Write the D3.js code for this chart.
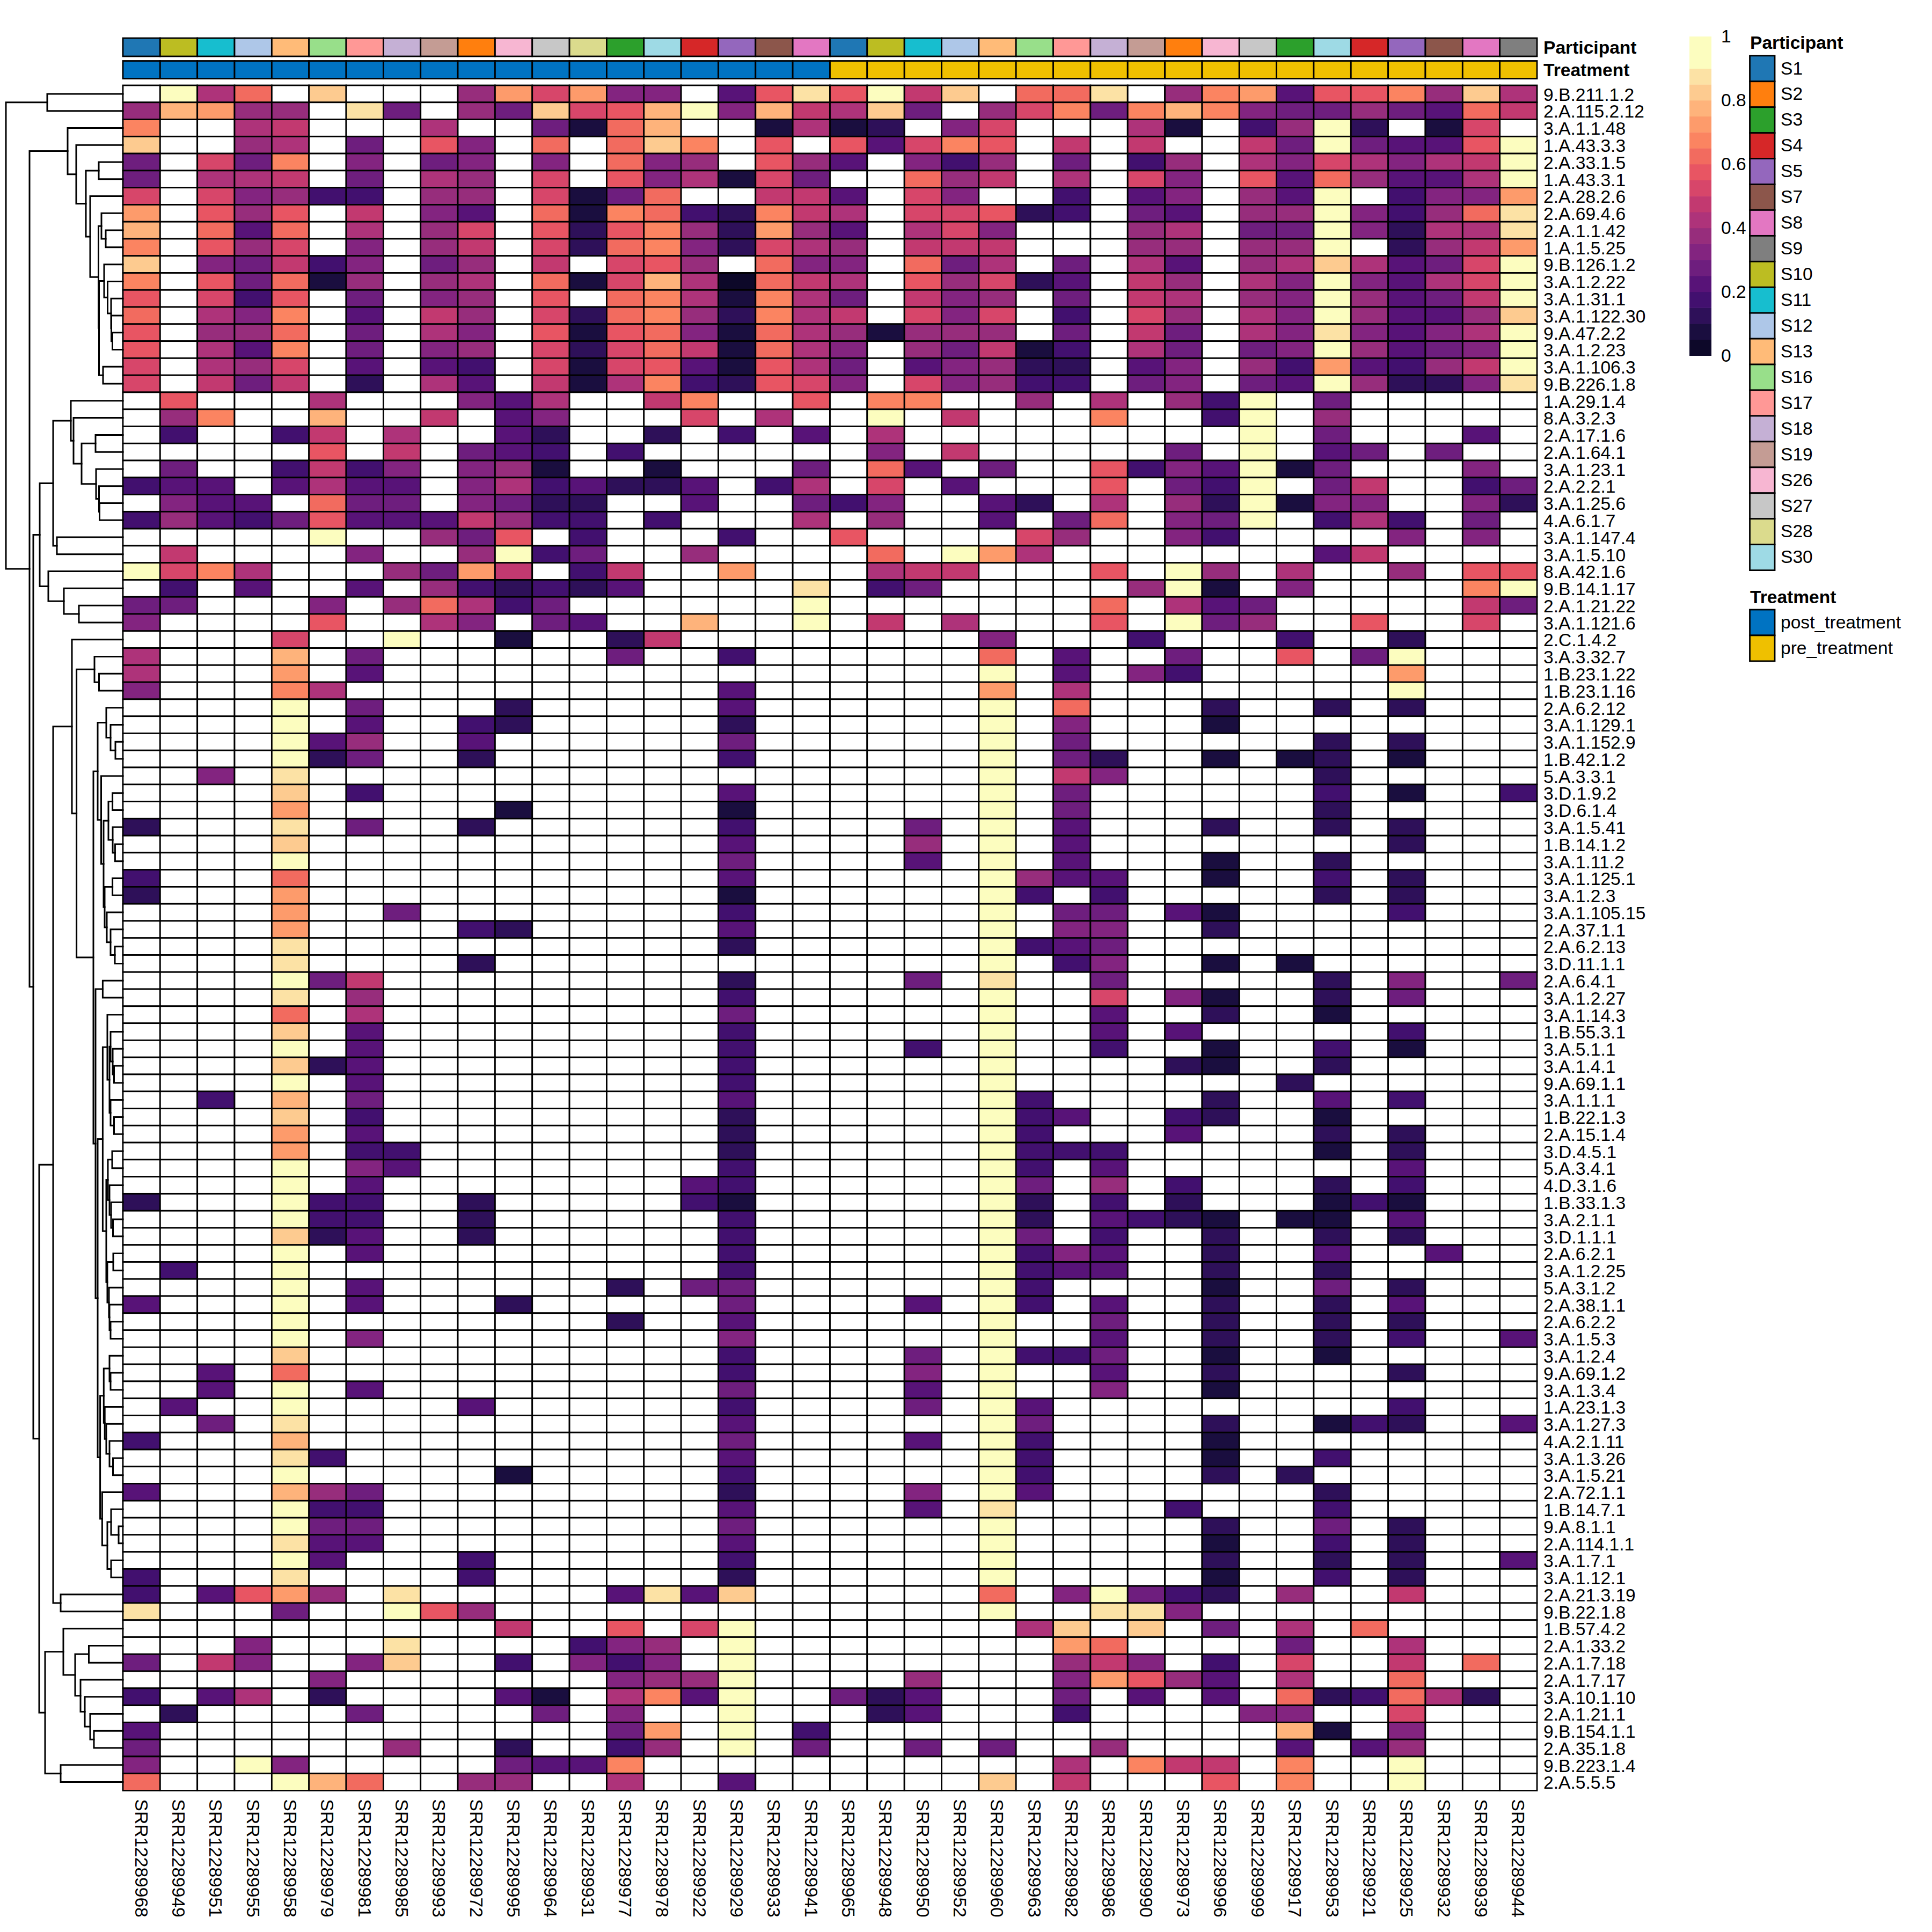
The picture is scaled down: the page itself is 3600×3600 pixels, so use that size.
<!DOCTYPE html>
<html>
<head>
<meta charset="utf-8">
<script src="https://cdnjs.cloudflare.com/ajax/libs/d3/7.8.5/d3.min.js"></script>
<style>
body { margin: 0; background: #fff; }
text { font-family: "Liberation Sans", Arial, sans-serif; fill: #000; }
</style>
</head>
<body>
<div id="chart"></div>
<script>
const sampleNames = ["SRR12289968","SRR12289949","SRR12289951","SRR12289955","SRR12289958","SRR12289979","SRR12289981","SRR12289985","SRR12289993","SRR12289972","SRR12289995","SRR12289964","SRR12289931","SRR12289977","SRR12289978","SRR12289922","SRR12289929","SRR12289933","SRR12289941","SRR12289965","SRR12289948","SRR12289950","SRR12289952","SRR12289960","SRR12289963","SRR12289982","SRR12289986","SRR12289990","SRR12289973","SRR12289996","SRR12289999","SRR12289917","SRR12289953","SRR12289921","SRR12289925","SRR12289932","SRR12289939","SRR12289944"]

const sampleParticipant = ["S1","S10","S11","S12","S13","S16","S17","S18","S19","S2","S26","S27","S28","S3","S30","S4","S5","S7","S8","S1","S10","S11","S12","S13","S16","S17","S18","S19","S2","S26","S27","S3","S30","S4","S5","S7","S8","S9"]

const postCount = 19

const participantNames = ["S1","S2","S3","S4","S5","S7","S8","S9","S10","S11","S12","S13","S16","S17","S18","S19","S26","S27","S28","S30"]
const participantColours = ["#1f77b4","#ff7f0e","#2ca02c","#d62728","#9467bd","#8c564b","#e377c2","#7f7f7f","#bcbd22","#17becf","#aec7e8","#ffbb78","#98df8a","#ff9896","#c5b0d5","#c49c94","#f7b6d2","#c7c7c7","#dbdb8d","#9edae5"]
const treatmentNames = ["post_treatment","pre_treatment"]
const treatmentColours = ["#0073c2","#efc000"]

// 20 legend bands, the top two are the same colour in the picture
const bandColours = ["#0d0829","#1a0e3f","#2e1059","#42106f","#581378","#6e1e7e","#832480","#972d7c","#ae337a","#c23970","#d7466a","#e85563","#f26b5f","#fb8461","#fd9b6b","#feb37b","#fdcb90","#fce2a5","#fcfdbf","#fcfdbf"]
const legendTicks = [0, 0.2, 0.4, 0.6, 0.8, 1]

const rowNames = ["9.B.211.1.2","2.A.115.2.12","3.A.1.1.48","1.A.43.3.3","2.A.33.1.5","1.A.43.3.1","2.A.28.2.6","2.A.69.4.6","2.A.1.1.42","1.A.1.5.25","9.B.126.1.2","3.A.1.2.22","3.A.1.31.1","3.A.1.122.30","9.A.47.2.2","3.A.1.2.23","3.A.1.106.3","9.B.226.1.8","1.A.29.1.4","8.A.3.2.3","2.A.17.1.6","2.A.1.64.1","3.A.1.23.1","2.A.2.2.1","3.A.1.25.6","4.A.6.1.7","3.A.1.147.4","3.A.1.5.10","8.A.42.1.6","9.B.14.1.17","2.A.1.21.22","3.A.1.121.6","2.C.1.4.2","3.A.3.32.7","1.B.23.1.22","1.B.23.1.16","2.A.6.2.12","3.A.1.129.1","3.A.1.152.9","1.B.42.1.2","5.A.3.3.1","3.D.1.9.2","3.D.6.1.4","3.A.1.5.41","1.B.14.1.2","3.A.1.11.2","3.A.1.125.1","3.A.1.2.3","3.A.1.105.15","2.A.37.1.1","2.A.6.2.13","3.D.11.1.1","2.A.6.4.1","3.A.1.2.27","3.A.1.14.3","1.B.55.3.1","3.A.5.1.1","3.A.1.4.1","9.A.69.1.1","3.A.1.1.1","1.B.22.1.3","2.A.15.1.4","3.D.4.5.1","5.A.3.4.1","4.D.3.1.6","1.B.33.1.3","3.A.2.1.1","3.D.1.1.1","2.A.6.2.1","3.A.1.2.25","5.A.3.1.2","2.A.38.1.1","2.A.6.2.2","3.A.1.5.3","3.A.1.2.4","9.A.69.1.2","3.A.1.3.4","1.A.23.1.3","3.A.1.27.3","4.A.2.1.11","3.A.1.3.26","3.A.1.5.21","2.A.72.1.1","1.B.14.7.1","9.A.8.1.1","2.A.114.1.1","3.A.1.7.1","3.A.1.12.1","2.A.21.3.19","9.B.22.1.8","1.B.57.4.2","2.A.1.33.2","2.A.1.7.18","2.A.1.7.17","3.A.10.1.10","2.A.1.21.1","9.B.154.1.1","2.A.35.1.8","9.B.223.1.4","2.A.5.5.5"]

// one char per cell, colour band: 0-9 then a-i, "." = NA
// spaces only split the row into columns 0-13, 14-27, 28-37
const bandCodes = "0123456789abcdefghi"
const rowCodes = [
".i8c.g...7eae6 6.4bhbi9g.cch. 7de4bbd7g8",
"7fe77.h5.75gab fi6f98g5.7ad5d fd655754c9",
"d..89...8..51c f..1812.6a...8 1.37i2.1a.",
"g..78.5.b6.c.c gd.b.b4adb.9.9 ..95i544bi",
"5.a5d.6.56.6.c 67.b74.637.5.3 7.86a8689i",
"5.889.5.87.a.b 681a5..c79.8.a 6.b4c7448i",
"a.a6733.77.a15 c..994.a6..3.4 6.74i.366e",
"e.b7b.9.64.c1d c32d98.aab23.5 4.77i637ch",
"f.c4c.8.7a.b2b d72e74.8a6...7 8.55i6288h",
"d.b7a.6.79.a2c d62a87.999...7 7.77i.279e",
"g.65936.57.9.a b7.c66.c58.5.8 4.78g845ai",
"d.b5c17.78.c1a f80c98.b7a24.9 7.86i648ai",
"b.a3b.5.67.b.c d81d85.967.5.9 8.76i7459i",
"c.86d.4.97.a2c d72d89.a6a.3.a 7.86i7447g",
"b.77c.5.86.b1b c61c871777.5.9 5.86h6468i",
"b.84d.5.67.a2a c91c86.75913.8 5.56i7456i",
"a.87a.4.43.a1a b41b85.46722.4 6.73e4379i",
"a.959.2.84.918 d32ba6.a6733.5 6.54i7226h",
".b...8...648.. 9d..b.dd..7.8. 73i.5.....",
".7d..f..9.46.. .a.8..i.9...d. .3i.7.....",
".3..39.8..42.. 2.3.4.8....... ..i.5...4.",
".....b.9.543.3 ......6.9..... 5.i.45.5..",
".5..3936.671.. 1...5.c4.5..b3 64i15...6.",
"344.4844.68342 24.38.a.4...b. 53i.59..35",
".644.c55.6522. .4..536..42.8. 72i166..62",
"37435b4449733. 3...8.7..4.5c. 65i.383.5.",
".....i..75b.3. ..3..b....a7.. 63....6.6.",
".9....6..7i35. .7....c.ie8... ....49....",
"iad8...75e9.39 ..e...899...b. i7.8..7.bb",
".3.4..4.732324 ....h.35.....7 i1.6....di",
"55...6.7c835.. ....i.......c. 845.....95",
"6....b..86.54. .f..i.9.8...b. i57..b..a.",
"....a..i..1..2 9........6...3 ...3..2...",
"8...f.5......5 ..3......c.4.. 5..b.5i...",
"8...e.4....... .........i.4.6 3.....e...",
"6...d8........ ..4......e.8.. ......i...",
"....i.5...2... ..4......i.c.. .2..2.2...",
"....i.4..32... ..2......i.6.. .1........",
"....i47..4.... ..5......i.5.. ....2.2...",
"....i25..2.... ..3......i.52. .1.12.1...",
"..6.h......... .........i.96. ....2.....",
"....g.3....... ..4......i.5.. ....3.1..3",
"....e.....1... ..1......i.5.. ....2.....",
"2...h.5..2.... ..3....5.i.4.. .2..2.2...",
"....g......... ..4....7.i.4.. ......2...",
"....i......... ..5....4.i.4.. .1..2.....",
"3...c......... ..4......i744. .1..3.2...",
"2...e......... ..1......i3.3. ....2.2...",
"....e..5...... ..3......i.55. 41....3...",
"....e....32... ..4......i.66. .2........",
"....h......... ..2......i345. ..........",
"....h....2.... .........i.36. .1.1......",
"....i59....... ..2....5.h..5. ....2.6..5",
"....h.7....... ..3......i..a. 61..2.5...",
"....c.8....... ..5......i..4. .2..1.....",
"....g.4....... ..3......i..4. 4.....3...",
"....i.4....... ..3....3.i..3. .1..3.1...",
"....g24....... ..3......i.... 21..2.....",
"....i.4....... ..3......i.... ...2......",
"..3.f.5....... ..4......i3... .2..4.3...",
"....g.3....... ..2......i34.. 32..1.....",
"....e.4....... ..2......i3... 4...2.2...",
"....e.33...... ..2......i333. ....1.2...",
"....i.64...... ..3......i3.4. ......4...",
"....i.4....... .43......i5.7. 3...2.3...",
"2...i33..2.... .31......i2.3. 2...131...",
"....i33..2.... ..3......i2.43 21.11.4...",
"....g24..2.... ..3......i5.3. .2..2.2...",
"....i.4....... ..3......i364. .2..4..4..",
".3..i......... ..3......i344. .2..2.....",
"....i.4......2 .55......i3... .1..5.2...",
"4...i.4...2... ..5....4.i3.4. .2..2.4...",
"....i........2 ..4......i..5. .2..2.2...",
"....i.6....... ..6......i..4. .2..2.3..4",
"....g......... ..3....5.i335. .1..1.....",
"..4.c......... ..3....6.i..4. .2....2...",
"..4.i.4....... ..5....4.i..6. .1........",
".4..i....4.... ..3....5.i4... ......3...",
"..5.h......... ..4......i5... .2..132..4",
"3...f......... ..5....4.i3... .1........",
"....h3........ ..4......i3... .1..3.....",
"....i.....1... ..3......i3... .2.2......",
"4...f75....... ..2....6.i4... ....2.....",
"....i33....... ..4....4.h.... 3...3.....",
"....i55....... ..5......i.... .2..5.2...",
"....h44....... ..4......i.... .1..3.2...",
"....i4...3.... ..3......i.... .2..2.2..4",
"3...h....3.... ..2......i.... .1..3.2...",
"3.4be7.h.....4 h4g......c.6i5 32.7..9...",
"h...5..ib7.... .........i..hh 6.........",
"..........9..b .ai.......8g.g .5.8.c....",
"...6...h....36 7.i........ec. ...5..8...",
"5.96..6g..3.63 6.i........796 .3.a..9.c.",
".....6.......6 77i....7...6eb 74.8..c...",
"3.48.2....41.8 d4i..524...5.4 .4.c23c82.",
".2....5....5.6 ..i...24...3.. ..66..a...",
"4............5 e.i.3......... ...f1.6...",
"5......7..2..3 7.i.5..5.5..7. ...4.47...",
"6..i6.....544d ...........8.d 99.d..i...",
"c...ifc..77..8 ..4......g.9.. .b.d..i..."
]

// row dendrogram: [merge height, left, right], a bare number is a row (1-based)
const rowQ = [47,
    [37.6,
        [29, 55, [25, [23, 56, [19, 57, [16.5, 58, 59]]], [23, 60, [16.5, 61, 62]]]],
        [31,
            [28, [20, 63, 64], [25, 65, [22, 66, [18.5, 67, 68]]]],
            [29, [18, 69, 70], [26, 71, [25, 72, [23, 73, 74]]]]]],
    [42.4,
        [35.7, [25, 75, [23, 76, 77]], [33.8, 78, [31, 79, [25, 80, [18.5, 81, 82]]]]],
        [38.6, 83, [29, [22, 84, [8, 85, 86]], [22, 87, 88]]]]]

const rowTree = [218,
    [141, 1, 2],
    [174,
        [103, 3, [87, 4, [69, [45, 5, 6], [61, 7, [45.5, [40, 8, [32, 9, 10]],
            [44.5, [35, 11, [28.5, 12, [22, 13, [21.5, 14, [19.5, 15, 16]]]]], [37, 17, 18]]]]]]],
        [167,
            [155,
                [130,
                    [97, 19, [92, 20, [77, [51, 21, 22], [50, 23, [44.5, 24, [43.5, 25, 26]]]]]],
                    [123, 27, 28]],
                [139, 29, [110, 30, [82, 31, 32]]]],
            [156,
                [130,
                    [95, 33, [86.4,
                        [53, 34, [44.5, 35, 36]],
                        [55,
                            [47,
                                [31, 37, [23, 38, [14, 39, 40]]],
                                [40.5, 41, [36,
                                    [27, [19.4, 42, 43], [19, 44, [14.6, 45, 46]]],
                                    [34, [19.4, 47, 48], [30, 49, [23, 50, [15, 51, 52]]]]]]],
                            [51, [37.6, 53, 54], rowQ]]]],
                    [116, 89, 90]],
                [145,
                    [111, 91, [89, [63.5, 92, 93], [79, 94, [71, 95, [61, 96, [54, 97, 98]]]]]],
                    [116, 99, 100]]]]]]

// layout
const width = 3600, height = 3600
const heat = {left: 229, right: 2864, top: 159, bottom: 3336.5}
const annot = {participant: [71, 105], treatment: [113.5, 146.5]}
const lineW = 2.8
const fontSize = 33.6

const svg = d3.select("#chart").append("svg")
    .attr("width", width)
    .attr("height", height)
    .style("display", "block")

const xScale = d3.scaleBand().domain(sampleNames).range([heat.left, heat.right])
const yScale = d3.scaleBand().domain(rowNames).range([heat.top, heat.bottom])
const colour = d3.scaleQuantize().domain([0, 1]).range(bandColours)

// cells
let cells = []
rowCodes.forEach((code, r) => {
    let chars = code.replace(/ /g, "")
    sampleNames.forEach((s, c) => {
        let level = bandCodes.indexOf(chars[c])
        cells.push({row: rowNames[r], sample: s, value: level < 0 ? null : (level + 0.5) / 20})
    })
})

svg.append("g").attr("class", "cells")
    .selectAll("rect")
    .data(cells)
    .enter().append("rect")
    .attr("x", d => xScale(d.sample))
    .attr("y", d => yScale(d.row))
    .attr("width", xScale.bandwidth())
    .attr("height", yScale.bandwidth())
    .attr("fill", d => d.value === null ? "#fff" : colour(d.value))
    .attr("stroke", "#000")
    .attr("stroke-width", lineW)

// annotation strips
const participantColour = d3.scaleOrdinal().domain(participantNames).range(participantColours)
const treatmentColour = d3.scaleOrdinal().domain(treatmentNames).range(treatmentColours)

svg.append("g").attr("class", "annot_participant")
    .selectAll("rect")
    .data(sampleNames)
    .enter().append("rect")
    .attr("x", d => xScale(d))
    .attr("y", annot.participant[0])
    .attr("width", xScale.bandwidth())
    .attr("height", annot.participant[1] - annot.participant[0])
    .attr("fill", (d, i) => participantColour(sampleParticipant[i]))
    .attr("stroke", "#000")
    .attr("stroke-width", lineW)

svg.append("g").attr("class", "annot_treatment")
    .selectAll("rect")
    .data(sampleNames)
    .enter().append("rect")
    .attr("x", d => xScale(d))
    .attr("y", annot.treatment[0])
    .attr("width", xScale.bandwidth())
    .attr("height", annot.treatment[1] - annot.treatment[0])
    .attr("fill", (d, i) => treatmentColour(i < postCount ? treatmentNames[0] : treatmentNames[1]))
    .attr("stroke", "#000")
    .attr("stroke-width", lineW)

svg.append("text").attr("x", 2876).attr("y", d3.mean(annot.participant)).attr("dy", "0.36em")
    .attr("font-size", fontSize).attr("font-weight", "bold").text("Participant")
svg.append("text").attr("x", 2876).attr("y", d3.mean(annot.treatment)).attr("dy", "0.36em")
    .attr("font-size", fontSize).attr("font-weight", "bold").text("Treatment")

// row and column labels
let rowAxis = svg.append("g")
    .attr("transform", `translate(${heat.right},0)`)
    .call(d3.axisRight(yScale).tickSize(0).tickPadding(12))
rowAxis.select(".domain").remove()
rowAxis.selectAll("text")
    .attr("dy", "0.38em")
    .attr("font-size", fontSize)
    .style("font-family", "Liberation Sans")

let colAxis = svg.append("g")
    .attr("transform", `translate(0,${heat.bottom})`)
    .call(d3.axisBottom(xScale).tickSize(0))
colAxis.select(".domain").remove()
colAxis.selectAll("text")
    .attr("transform", "rotate(90)")
    .attr("x", 16)
    .attr("y", 0)
    .attr("dy", "0.36em")
    .attr("font-size", fontSize)
    .style("text-anchor", "start")
    .style("font-family", "Liberation Sans")

// dendrogram
const treeX = d3.scaleLinear().domain([0, 218]).range([heat.left, 11])
const root = d3.hierarchy(rowTree, d => Array.isArray(d) ? d.slice(1) : null)
root.eachAfter(n => {
    if (n.children) {
        n.px = treeX(n.data[0])
        n.py = d3.mean(n.children, c => c.py)
    } else {
        n.px = heat.left
        n.py = yScale(rowNames[n.data - 1]) + yScale.bandwidth() / 2
    }
})

svg.append("g").attr("class", "dendrogram")
    .selectAll("path")
    .data(root.descendants().filter(n => n.children))
    .enter().append("path")
    .attr("d", n => {
        let [a, b] = n.children
        return `M${a.px},${a.py}H${n.px}V${b.py}H${b.px}`
    })
    .attr("fill", "none")
    .attr("stroke", "#000")
    .attr("stroke-width", 3)
    .attr("stroke-linecap", "square")

// colour bar
const barY = d3.scaleLinear().domain([0, 1]).range([662.5, 68])
svg.append("g").attr("class", "colourbar")
    .selectAll("rect")
    .data(bandColours)
    .enter().append("rect")
    .attr("x", 3148)
    .attr("y", (d, i) => barY((i + 1) / bandColours.length))
    .attr("width", 41)
    .attr("height", (d, i) => barY(i / bandColours.length) - barY((i + 1) / bandColours.length) + 0.5)
    .attr("fill", d => d)

let barAxis = svg.append("g")
    .attr("transform", "translate(3189,0)")
    .call(d3.axisRight(barY).tickValues(legendTicks).tickFormat(d3.format("")).tickSize(0).tickPadding(18))
barAxis.select(".domain").remove()
barAxis.selectAll("text")
    .attr("font-size", fontSize)
    .style("font-family", "Liberation Sans")

// discrete legends
function drawLegend(title, names, colours, titleY, top) {
    let ly = d3.scaleBand().domain(names).range([top, top + names.length * 47.94])
    svg.append("text").attr("x", 3261).attr("y", titleY).attr("dy", "0.36em")
        .attr("font-size", fontSize).attr("font-weight", "bold").text(title)
    let g = svg.append("g")
    g.selectAll("rect")
        .data(names)
        .enter().append("rect")
        .attr("x", 3260.5)
        .attr("y", d => ly(d))
        .attr("width", 46.5)
        .attr("height", ly.bandwidth())
        .attr("fill", (d, i) => colours[i])
        .attr("stroke", "#000")
        .attr("stroke-width", lineW)
    let axis = svg.append("g")
        .attr("transform", "translate(3307,0)")
        .call(d3.axisRight(ly).tickSize(0).tickPadding(11))
    axis.select(".domain").remove()
    axis.selectAll("text")
        .attr("font-size", fontSize)
        .style("font-family", "Liberation Sans")
}

drawLegend("Participant", participantNames, participantColours, 79, 103.8)
drawLegend("Treatment", treatmentNames, treatmentColours, 1111.6, 1136)
</script>
</body>
</html>
